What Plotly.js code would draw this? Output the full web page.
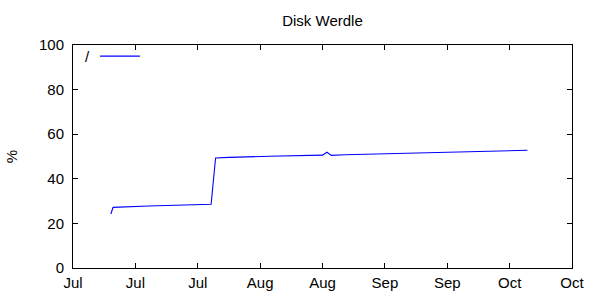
<!DOCTYPE html>
<html>
<head>
<meta charset="utf-8">
<script src="https://cdn.plot.ly/plotly-3.0.1.min.js"></script>
<style>html,body{margin:0;padding:0;background:#fff;}#chart{width:600px;height:300px;}</style>
</head>
<body>
<div id="chart"></div>
<script>
// Data
const dates = [
  '2014-07-09 12:00', '2014-07-10 00:00', '2014-07-18 00:00', '2014-07-26 00:00',
  '2014-08-01 00:00', '2014-08-02 00:00', '2014-08-05 00:00', '2014-08-14 00:00',
  '2014-08-24 00:00', '2014-08-26 00:00', '2014-08-27 00:00', '2014-08-28 00:00',
  '2014-08-31 00:00', '2014-09-09 00:00', '2014-09-18 00:00', '2014-09-26 00:00',
  '2014-10-05 00:00', '2014-10-11 00:00'
];
const usage = [24.2, 27.2, 27.8, 28.4, 28.6, 49.3, 49.6, 50.1, 50.5, 50.6, 51.9, 50.5,
               50.8, 51.2, 51.6, 52.1, 52.6, 52.8];
const seriesName = '/';
const chartTitle = 'Disk Werdle';
const yLabel = '%';
const xStart = '2014-07-01';
const xEnd = '2014-10-21';
const yTicks = [0, 20, 40, 60, 80, 100];

const font = {family: 'Liberation Sans, Arial, sans-serif', size: 15, color: '#000'};

const trace = {
  x: dates, y: usage, type: 'scatter', mode: 'lines', name: seriesName,
  line: {color: '#0000ff', width: 1.1}
};

const layout = {
  width: 600, height: 300,
  margin: {l: 73, r: 28, t: 45, b: 32},
  paper_bgcolor: '#fff', plot_bgcolor: '#fff',
  font: font,
  showlegend: false,
  title: {text: chartTitle, font: {family: font.family, size: 15, color: '#000'}, x: 0.5375, xanchor: 'center', y: 0.93, yanchor: 'middle'},
  xaxis: {
    type: 'date', range: [xStart, xEnd],
    tick0: xStart, dtick: 14 * 86400000, tickformat: '%b',
    ticks: 'inside', ticklen: 5, tickcolor: '#000', tickwidth: 1,
    showline: true, linecolor: '#000', linewidth: 1, mirror: 'ticks',
    showgrid: false, zeroline: false, tickfont: font, ticklabelstandoff: 1
  },
  yaxis: {
    range: [0, 100], tickvals: yTicks,
    ticks: 'inside', ticklen: 5, tickcolor: '#000', tickwidth: 1,
    showline: true, linecolor: '#000', linewidth: 1, mirror: 'ticks',
    showgrid: false, zeroline: false, tickfont: font, ticklabelstandoff: 5,
    title: {text: yLabel, font: font, standoff: 17}
  },
  annotations: [
    {xref: 'paper', yref: 'paper', x: 0.029, y: 0.95, text: seriesName, showarrow: false,
     xanchor: 'center', yanchor: 'middle', font: font}
  ],
  shapes: [
    {type: 'line', xref: 'paper', yref: 'paper', x0: 0.054, x1: 0.134, y0: 0.95, y1: 0.95,
     line: {color: '#0000ff', width: 1.1}}
  ]
};

Plotly.newPlot('chart', [trace], layout, {displayModeBar: false, staticPlot: true});
</script>
</body>
</html>
